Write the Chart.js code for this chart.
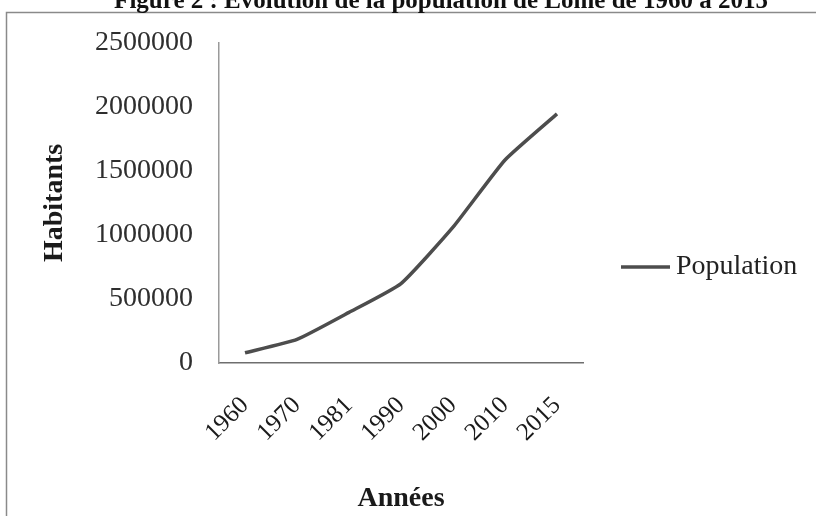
<!DOCTYPE html>
<html>
<head>
<meta charset="utf-8">
<script src="https://cdn.jsdelivr.net/npm/chart.js@4/dist/chart.umd.min.js"></script>
<style>
html,body{margin:0;padding:0;background:#fff;}
#wrap{width:816px;height:516px;position:relative;}
</style>
</head>
<body>
<div id="wrap"><canvas id="c" width="816" height="516"></canvas></div>
<script>
const chartTitle = "Figure 2 : Evolution de la population de Lomé de 1960 à 2015";
const years = ["1960", "1970", "1981", "1990", "2000", "2010", "2015"];
const population = [80000, 184000, 395000, 620000, 1060000, 1585000, 1945000];
const seriesName = "Population";
const yTitle = "Habitants";
const xTitle = "Années";
const yTicks = [0, 500000, 1000000, 1500000, 2000000, 2500000];

const SERIF = "'Liberation Serif', 'Times New Roman', serif";

const decor = {
  id: 'decor',
  beforeDraw(chart) {
    const ctx = chart.ctx;
    ctx.save();
    ctx.fillStyle = '#fff';
    ctx.fillRect(0, 0, chart.width, chart.height);
    ctx.strokeStyle = '#8a8a8a';
    ctx.lineWidth = 1.5;
    ctx.beginPath();
    ctx.moveTo(6.5, 516);
    ctx.lineTo(6.5, 12.5);
    ctx.lineTo(816, 12.5);
    ctx.stroke();
    ctx.restore();
  },
  afterDraw(chart) {
    const ctx = chart.ctx;
    ctx.save();
    ctx.fillStyle = '#111';
    ctx.font = "bold 25px " + SERIF;
    ctx.textAlign = 'center';
    ctx.textBaseline = 'alphabetic';
    ctx.fillText(chartTitle, 441, 8);
    const ds = chart.data.datasets[0];
    const ly = 267;
    ctx.strokeStyle = ds.borderColor;
    ctx.lineWidth = 3.5;
    ctx.beginPath();
    ctx.moveTo(621, ly);
    ctx.lineTo(670, ly);
    ctx.stroke();
    ctx.fillStyle = '#222';
    ctx.font = "28px " + SERIF;
    ctx.textAlign = 'left';
    ctx.textBaseline = 'middle';
    ctx.fillText(ds.label, 676, ly);
    ctx.restore();
  }
};

new Chart(document.getElementById('c'), {
  type: 'line',
  data: {
    labels: years,
    datasets: [{
      label: seriesName,
      data: population,
      borderColor: '#4d4d4d',
      borderWidth: 3.5,
      pointRadius: 0,
      tension: 0.15,
      fill: false
    }]
  },
  options: {
    responsive: false,
    animation: false,
    devicePixelRatio: 1,
    layout: { padding: { left: 0, top: 41, right: 233, bottom: 0 } },
    plugins: {
      legend: { display: false },
      title: { display: false },
      tooltip: { enabled: false }
    },
    scales: {
      x: {
        offset: true,
        grid: { display: false, drawTicks: false, offset: true },
        border: { display: true, color: '#6e6e6e', width: 1.5 },
        ticks: {
          color: '#1a1a1a',
          font: { family: SERIF, size: 25 },
          minRotation: 45,
          maxRotation: 45,
          padding: 28,
          autoSkip: false
        },
        title: {
          display: true,
          text: xTitle,
          color: '#1a1a1a',
          font: { family: SERIF, size: 28, weight: 'bold' },
          padding: { top: 17, bottom: 0 }
        },
        afterFit(scale) { scale.height = 153; }
      },
      y: {
        min: 0,
        max: 2500000,
        afterBuildTicks(scale) { scale.ticks = yTicks.map(v => ({ value: v })); },
        grid: { display: false, drawTicks: false },
        border: { display: true, color: '#9a9a9a', width: 1.5 },
        ticks: {
          color: '#2e2e2e',
          font: { family: SERIF, size: 28 },
          padding: 26,
          callback: v => String(v)
        },
        title: {
          display: true,
          text: yTitle,
          color: '#1a1a1a',
          font: { family: SERIF, size: 28, weight: 'bold' },
          padding: { top: 38, bottom: 0 }
        },
        afterFit(scale) { scale.width = 219; }
      }
    }
  },
  plugins: [decor]
});
</script>
</body>
</html>
